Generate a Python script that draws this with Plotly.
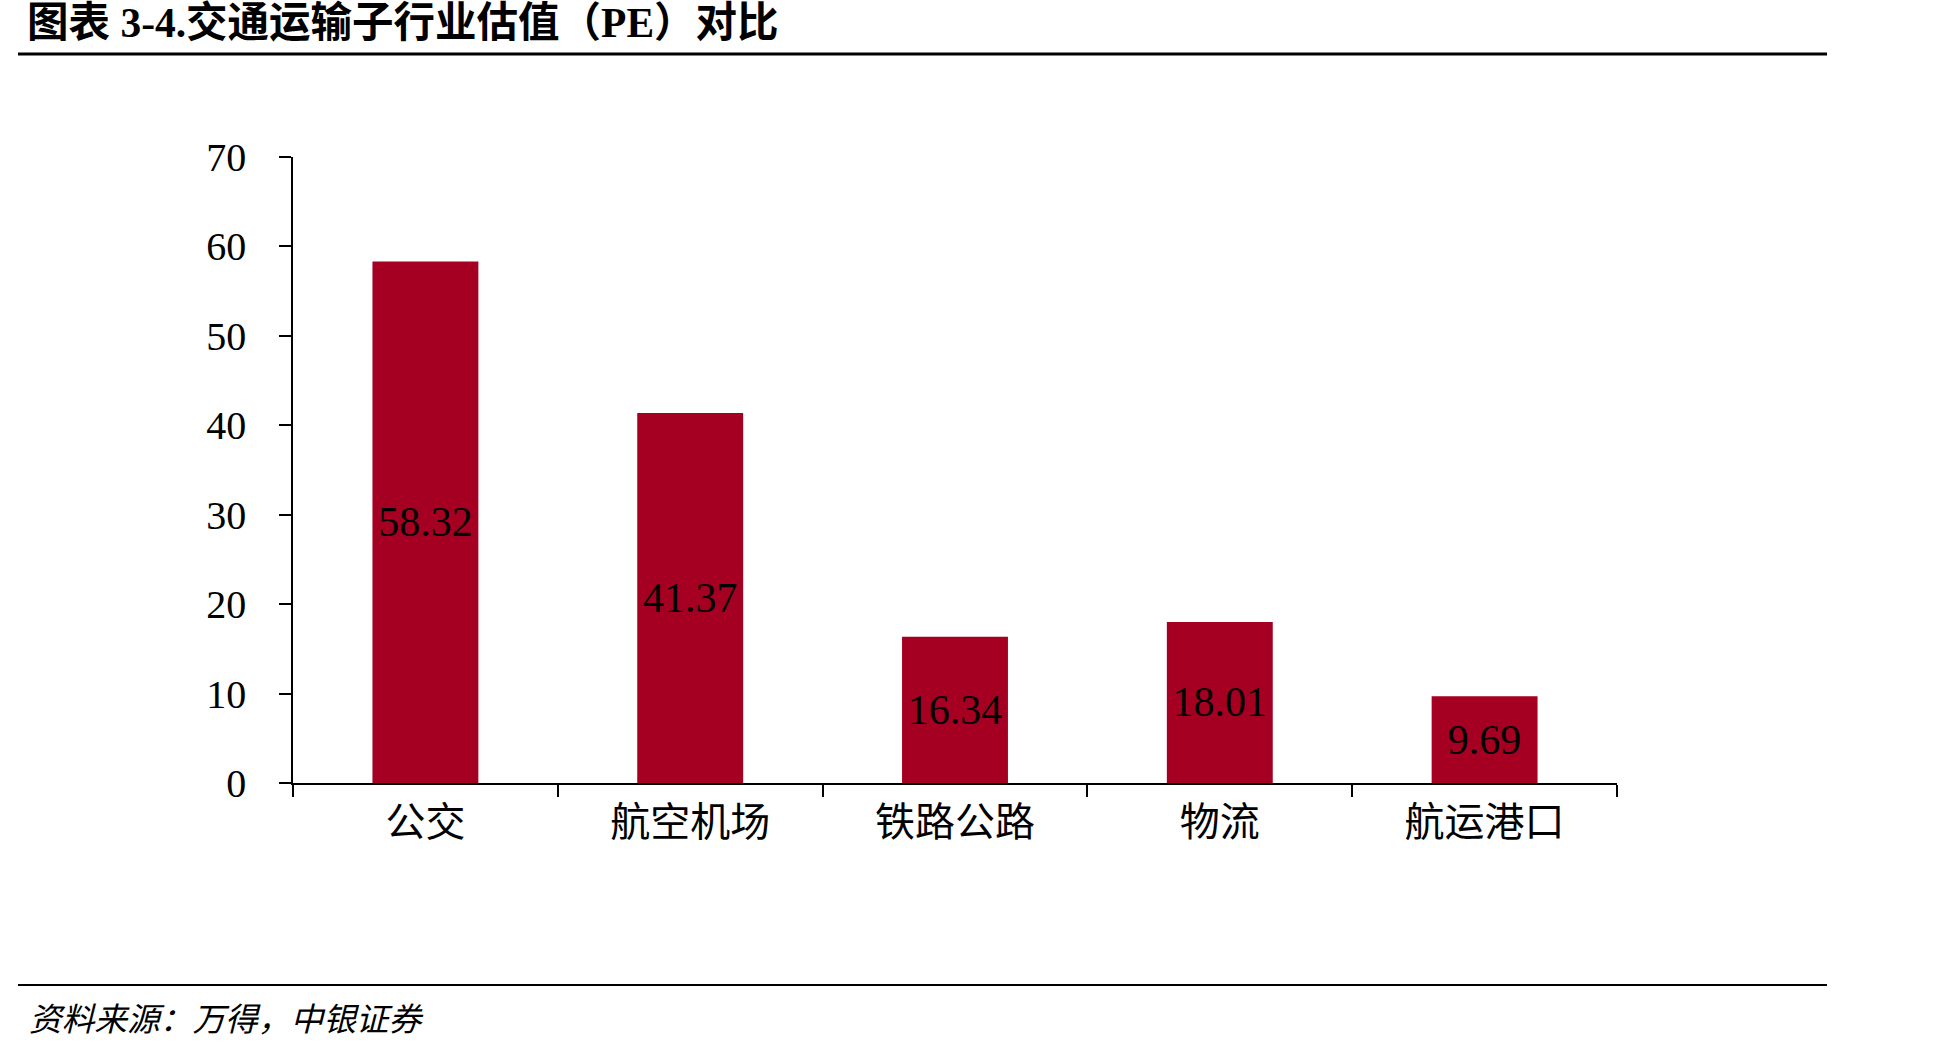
import plotly.graph_objects as go

categories = ["公交", "航空机场", "铁路公路", "物流", "航运港口"]
pe_values = [58.32, 41.37, 16.34, 18.01, 9.69]
pe_labels = ["58.32", "41.37", "16.34", "18.01", "9.69"]
y_ticks = [0, 10, 20, 30, 40, 50, 60, 70]

title_text = "图表 3-4.交通运输子行业估值（PE）对比"
source_text = "资料来源：万得，中银证券"

W, H = 1948, 1044
L, R, T, B = 293, 1617, 157, 783  # plot area in pixels


def px(x):
    return (x - L) / (R - L)


def py(y):
    return (B - y) / (B - T)


serif = "Liberation Serif, Times New Roman, Noto Sans CJK SC"

fig = go.Figure(
    go.Bar(
        x=categories,
        y=pe_values,
        text=pe_labels,
        textposition="inside",
        insidetextanchor="middle",
        textangle=0,
        textfont=dict(family=serif, size=42, color="black"),
        marker=dict(color="#A50021", line=dict(width=0)),
        width=0.4,
    )
)

fig.update_layout(
    width=W,
    height=H,
    margin=dict(l=L, r=W - R, t=T, b=H - B),
    paper_bgcolor="white",
    plot_bgcolor="white",
    showlegend=False,
    font=dict(family=serif, color="black"),
)

fig.update_xaxes(
    type="category",
    showline=True,
    linecolor="black",
    linewidth=1.5,
    ticks="outside",
    tickson="boundaries",
    ticklen=12,
    tickwidth=1.5,
    tickcolor="black",
    showgrid=False,
    tickfont=dict(family="Noto Sans CJK SC", size=40, color="black"),
    ticklabelstandoff=3,
)

fig.update_yaxes(
    range=[0, 70],
    tickvals=y_ticks,
    showline=True,
    linecolor="black",
    linewidth=1.5,
    ticks="outside",
    ticklen=12,
    tickwidth=1.5,
    tickcolor="black",
    showgrid=False,
    zeroline=False,
    tickfont=dict(family=serif, size=40, color="black"),
    ticklabelstandoff=25,
)

# title and source texts
fig.add_annotation(
    x=px(25), y=py(23), xref="paper", yref="paper",
    text="<b>" + title_text + "</b>", showarrow=False,
    xanchor="left", yanchor="middle",
    font=dict(family=serif, size=41.5, color="black"),
)
fig.add_annotation(
    x=px(27), y=py(1016), xref="paper", yref="paper",
    text="<i>" + source_text + "</i>", showarrow=False,
    xanchor="left", yanchor="middle",
    font=dict(family="Noto Sans CJK SC", size=32.7, color="black"),
)

# rules
fig.add_shape(type="line", xref="paper", yref="paper",
              x0=px(18), x1=px(1827), y0=py(54), y1=py(54),
              line=dict(color="black", width=3))
fig.add_shape(type="line", xref="paper", yref="paper",
              x0=px(18), x1=px(1827), y0=py(985), y1=py(985),
              line=dict(color="black", width=2))

fig.write_html("out.html")
